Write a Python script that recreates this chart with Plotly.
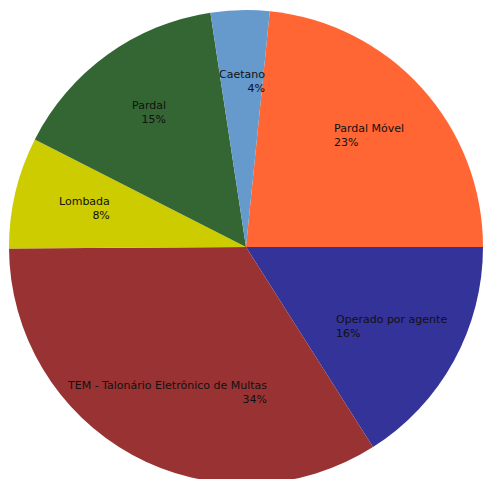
import math
import plotly.graph_objects as go

# Data
categories = ["Pardal Móvel", "Operado por agente", "TEM - Talonário Eletrônico de Multas",
              "Lombada", "Pardal", "Caetano"]
values = [234, 160, 339, 76, 151, 40]
colors = ["#FF6633", "#333399", "#993333", "#CCCC00", "#336633", "#6699CC"]

W, H = 492, 494
ML, MT = 9, 10
start_deg = 90 - 360 * values[0] / sum(values)  # first slice starts here (clockwise)

fig = go.Figure(go.Pie(
    labels=categories,
    values=values,
    sort=False,
    direction="clockwise",
    rotation=start_deg,
    marker=dict(colors=colors, line=dict(width=0)),
    textinfo="none",
    hoverinfo="label+percent",
    showlegend=False,
))

# Labels placed at the slice mid-angles, derived from the data
total = sum(values)
annotations = []
cum = 0.0
for lab, v in zip(categories, values):
    mid = start_deg + 360 * (cum + v / 2) / total
    cum += v
    th = math.radians(mid)
    x = 0.5 + 0.35 * math.sin(th)
    y = 0.5 + 0.35 * math.cos(th)
    right_side = math.sin(th) > 0
    annotations.append(dict(
        x=x, y=y, xref="paper", yref="paper",
        text=f"{lab}<br>{round(v / total * 100)}%",
        showarrow=False, xanchor="center", yanchor="middle",
        align="left" if right_side else "right",
        font=dict(family="DejaVu Sans", size=11, color="#111111"),
    ))

fig.update_layout(
    width=W, height=H, autosize=False,
    margin=dict(l=ML, r=W - ML - 474, t=MT, b=H - MT - 474, pad=0),
    paper_bgcolor="white", plot_bgcolor="white",
    annotations=annotations,
)

fig.write_html("out.html", config={"displayModeBar": False},
               post_script="document.documentElement.style.overflow='hidden';document.body.style.overflow='hidden';document.body.style.margin='0';")
